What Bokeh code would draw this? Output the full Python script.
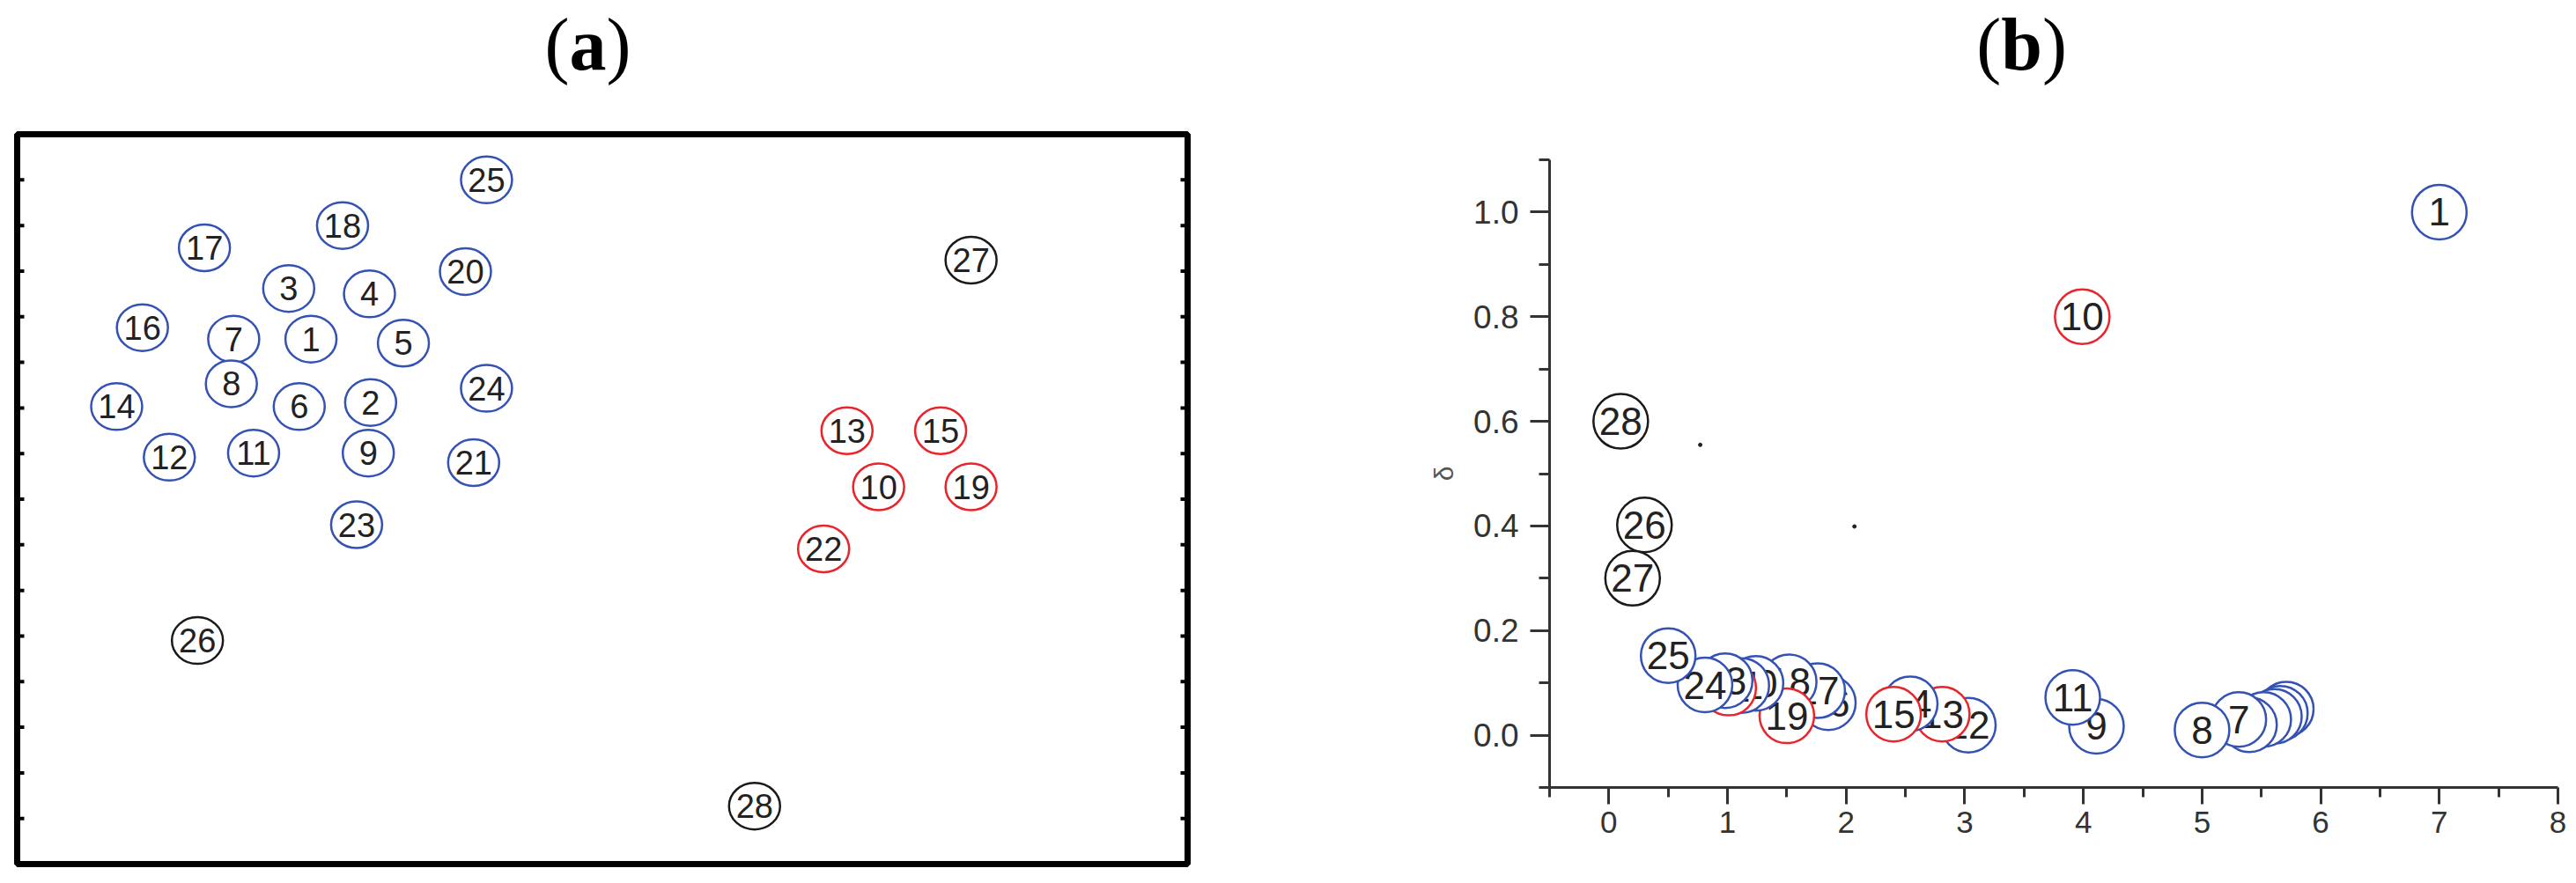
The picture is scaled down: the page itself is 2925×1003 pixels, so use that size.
from bokeh.plotting import figure
from bokeh.models import ColumnDataSource, FixedTicker, Range1d, NumeralTickFormatter
from bokeh.layouts import row, column
from bokeh.embed import file_html
from bokeh.resources import INLINE
from bokeh.core.properties import value

# ---------------- data ----------------
labels = ["1", "2", "3", "4", "5", "6", "7", "8", "9", "10", "11", "12", "13", "14",
          "15", "16", "17", "18", "19", "20", "21", "22", "23", "24", "25", "26", "27", "28"]
# cluster membership of each point (same order as labels)
point_class = ["core", "core", "core", "core", "core", "core", "core", "core", "core", "sub",
               "core", "core", "sub", "core", "sub", "core", "core", "core", "sub", "core",
               "core", "sub", "core", "core", "core", "out", "out", "out"]

# panel (a): 2-D distribution of the samples
a_x = [2.51, 3.02, 2.32, 3.01, 3.30, 2.41, 1.85, 1.83, 3.00, 7.36, 2.02, 1.30, 7.09, 0.85,
       7.89, 1.07, 1.60, 2.78, 8.15, 3.83, 3.90, 6.89, 2.90, 4.01, 4.01, 1.54, 8.15, 6.30]
a_y = [11.51, 10.12, 12.62, 12.50, 11.42, 10.03, 11.51, 10.53, 9.01, 8.27, 9.01, 8.92, 9.50, 10.03,
       9.50, 11.76, 13.51, 14.00, 8.27, 12.99, 8.80, 6.91, 7.44, 10.43, 15.00, 4.90, 13.24, 1.27]
a_edge_ticks = [1, 2, 3, 4, 5, 6, 7, 8, 9, 10, 11, 12, 13, 14, 15]

# panel (b): decision graph (rho, delta)
b_rho = [7.00, 5.40, 5.52, 5.61, 5.66, 5.71, 5.31, 5.00, 4.11, 3.99, 3.91, 3.03, 2.81, 2.54,
         2.40, 1.85, 1.76, 1.52, 1.50, 1.24, 1.12, 1.01, 0.98, 0.81, 0.50, 0.30, 0.20, 0.10]
b_delta = [1.00, 0.020, 0.030, 0.036, 0.042, 0.050, 0.030, 0.010, 0.017, 0.80, 0.072, 0.019, 0.040, 0.060,
           0.040, 0.062, 0.085, 0.102, 0.037, 0.099, 0.095, 0.090, 0.104, 0.096, 0.152, 0.402, 0.300, 0.600]
stray_rho = [0.77, 2.07]
stray_delta = [0.555, 0.399]

x_ticks = [0, 1, 2, 3, 4, 5, 6, 7, 8]
x_minor = [-0.5, 0.5, 1.5, 2.5, 3.5, 4.5, 5.5, 6.5, 7.5]
y_ticks = [0.0, 0.2, 0.4, 0.6, 0.8, 1.0]
y_minor = [-0.1, 0.1, 0.3, 0.5, 0.7, 0.9, 1.1]

panel_letters = ["a", "b"]

COLORS = {"core": "#3452b4", "sub": "#e8252b", "out": "#1a1a1a"}
SANS = "Liberation Sans"
SERIF = "Liberation Serif"

TITLE_H = 138
PANEL_H = 857
A_W = 1408
B_W = 1509


def title_fig(x_range, width, left, right, x, letter, half):
    t = figure(width=width, height=TITLE_H, x_range=x_range, y_range=Range1d(0, 1),
               x_axis_location=None, y_axis_location=None, frame_align=False,
               output_backend="svg", toolbar_location=None,
               min_border_left=left, min_border_right=right, min_border_top=0, min_border_bottom=0)
    t.grid.visible = False
    t.outline_line_color = None
    src = ColumnDataSource(dict(x=[x], y=[0.638], t=[letter]))
    common = dict(x="x", y="y", text_baseline="alphabetic", text_font=value(SERIF),
                  text_font_size=value("84px"), text_color="black", source=src)
    t.text(text=value("("), text_align="right", x_offset=-half, **common)
    t.text(text="t", text_align="center", text_font_style="bold", **common)
    t.text(text=value(")"), text_align="left", x_offset=half, **common)
    return t


# ---------------- panel (a) ----------------
pa = figure(width=A_W, height=PANEL_H, x_range=Range1d(0, 10), y_range=Range1d(0, 16),
            x_axis_location=None, y_axis_location=None, frame_align=False,
            output_backend="svg", toolbar_location=None,
            min_border_left=19, min_border_right=60, min_border_top=14, min_border_bottom=14)
pa.grid.visible = False
pa.outline_line_color = "black"
pa.outline_line_width = 7

# small tick marks on the inner side of the left and right frame edges
edge_x = [pa.x_range.start] * len(a_edge_ticks) + [pa.x_range.end] * len(a_edge_ticks)
edge_y = a_edge_ticks + a_edge_ticks
pa.scatter(x=edge_x, y=edge_y, marker="dash", size=16, line_width=4, line_color="black")

for i in range(len(labels)):
    src = ColumnDataSource(dict(x=[a_x[i]], y=[a_y[i]], t=[labels[i]]))
    col = COLORS[point_class[i]]
    pa.ellipse(x="x", y="y", width=58, height=53, width_units="screen", height_units="screen",
               fill_color="white", line_color=col, line_width=2.5, source=src)
    pa.text(x="x", y="y", text="t", text_align="center", text_baseline="middle",
            text_font=value(SANS), text_font_size=value("38px"), text_color="#222222", source=src)

ta = title_fig(pa.x_range, A_W, 19, 60, 4.876, panel_letters[0], 21)

# ---------------- panel (b) ----------------
pb = figure(width=B_W, height=PANEL_H, x_range=Range1d(-0.5, 8), y_range=Range1d(-0.1, 1.1),
            frame_align=False, output_backend="svg", toolbar_location=None,
            min_border_left=351, min_border_right=13, min_border_top=43, min_border_bottom=101)
pb.grid.visible = False
pb.outline_line_color = None
pb.xaxis.ticker = FixedTicker(ticks=x_ticks, minor_ticks=x_minor)
pb.yaxis.ticker = FixedTicker(ticks=y_ticks, minor_ticks=y_minor)
pb.yaxis.formatter = NumeralTickFormatter(format="0.0")
for axes, tout, mout in ((pb.xaxis, 19, 11), (pb.yaxis, 22, 12)):
    axes.axis_line_width = 3
    axes.axis_line_color = "#333333"
    axes.major_tick_line_width = 3
    axes.major_tick_line_color = "#333333"
    axes.minor_tick_line_width = 3
    axes.minor_tick_line_color = "#333333"
    axes.major_tick_in = 0
    axes.minor_tick_in = 0
    axes.major_tick_out = tout
    axes.minor_tick_out = mout
    axes.major_label_text_font = SANS
    axes.major_label_text_color = "#333333"
pb.xaxis.major_label_text_font_size = "35px"
pb.yaxis.major_label_text_font_size = "37px"
pb.xaxis.major_label_standoff = 8
pb.yaxis.major_label_standoff = 13
pb.yaxis.axis_label = "δ"
pb.yaxis.axis_label_text_font = SANS
pb.yaxis.axis_label_text_font_size = "30px"
pb.yaxis.axis_label_text_font_style = "normal"
pb.yaxis.axis_label_text_color = "#555555"
pb.yaxis.axis_label_standoff = 14

pb.scatter(x=stray_rho, y=stray_delta, size=4, color="#222222")

order = sorted(range(len(labels)), key=lambda k: -b_rho[k])
for i in order:
    src = ColumnDataSource(dict(x=[b_rho[i]], y=[b_delta[i]], t=[labels[i]]))
    col = COLORS[point_class[i]]
    pb.scatter(x="x", y="y", marker="circle", size=62, fill_color="white",
               line_color=col, line_width=2.5, source=src)
    pb.text(x="x", y="y", text="t", text_align="center", text_baseline="middle",
            text_font=value(SANS), text_font_size=value("44px"), text_color="#222222", source=src)

tb = title_fig(pb.x_range, B_W, 351, 13, 3.48, panel_letters[1], 23.4)

layout = column(row(ta, tb), row(pa, pb))
open("out.html", "w").write(file_html(layout, INLINE))
